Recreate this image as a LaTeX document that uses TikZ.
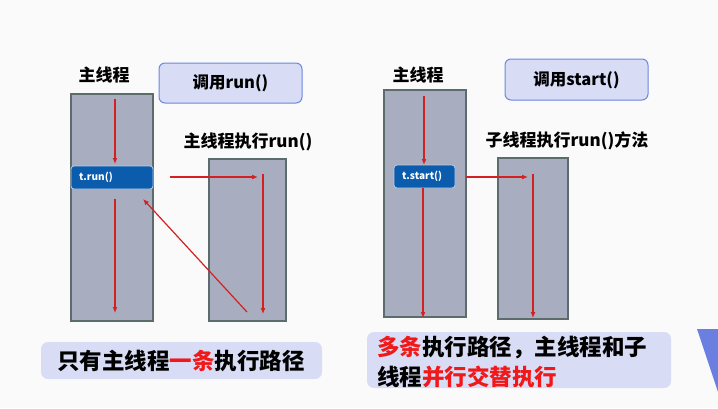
\documentclass[tikz,border=0pt]{standalone}
\usepackage{fontspec}
\newfontfamily\cjk{Noto Sans CJK SC}
\usetikzlibrary{arrows.meta}
\definecolor{colfill}{HTML}{A9ADC0}
\definecolor{colborder}{HTML}{5C6C6C}
\definecolor{callfill}{HTML}{0B5CAD}
\definecolor{labfill}{HTML}{D8DDF5}
\definecolor{labborder}{HTML}{6C87DE}
\definecolor{arr}{HTML}{D42020}
\definecolor{txtred}{HTML}{F01818}
\definecolor{tri}{HTML}{6B7FE0}
\tikzset{
  column/.style={draw=colborder, fill=colfill, line width=1.3pt},
  callbox/.style={draw=white!70!callfill, fill=callfill, rounded corners=3pt, line width=0.8pt},
  calltext/.style={text=white, font=\cjk\bfseries\fontsize{10}{12}\selectfont, anchor=west, inner sep=0pt},
  labbox/.style={draw=labborder, fill=labfill, rounded corners=6pt, line width=1pt},
  sumbox/.style={fill=labfill, rounded corners=7pt},
  title/.style={font=\cjk\bfseries\fontsize{17}{20}\selectfont, inner sep=0pt},
  bigtext/.style={font=\cjk\bfseries\fontsize{22.5}{30}\selectfont, inner sep=0pt},
  flow/.style={draw=arr, line width=1.2pt, -{Latex[length=6pt,width=5pt]}}
}
\begin{document}
\begin{tikzpicture}[x=1pt,y=-1pt]
\fill[white!98!black] (0,0) rectangle (718,408);
\useasboundingbox (0,0) rectangle (718,408);

% ---------- left part ----------
\node[title] (lmainlab) at (104,75) {主线程};
\draw[labbox] (159,63) rectangle (302,103);
\node[title, font=\cjk\bfseries\fontsize{16.5}{20}\selectfont] (lcall) at (230.5,83) {调用run()};

\draw[column] (71,94) rectangle (153,321);
\draw[callbox] (71,166) rectangle (153,189);
\node[calltext] (trun) at (79,177.5) {t.run()};

\node[title] (lrunlab) at (248,142) {主线程执行run()};
\draw[column] (209,159) rectangle (286,321);

\coordinate (la1) at (115,99);
\coordinate (la2) at (115,164);
\coordinate (la3) at (115,199);
\coordinate (la4) at (115,313);
\coordinate (lh1) at (170,177);
\coordinate (lh2) at (258,177);
\coordinate (lv1) at (263,174);
\coordinate (lv2) at (263,314);
\coordinate (ld1) at (247,312);
\coordinate (ld2) at (143,199);
\draw[flow] (la1) -- (la2);
\draw[flow] (la3) -- (la4);
\draw[flow] (lh1) -- (lh2);
\draw[flow] (lv1) -- (lv2);
\draw[flow] (ld1) -- (ld2);

\fill[sumbox] (41,342) rectangle (322,379);
\node[bigtext] (lsum) at (181,361) {只有主线程\textcolor{txtred}{一条}执行路径};

% ---------- right part ----------
\node[title] (rmainlab) at (418,75) {主线程};
\draw[labbox] (505,59) rectangle (648,100);
\node[title, font=\cjk\bfseries\fontsize{16.5}{20}\selectfont] (rcall) at (576.5,80) {调用start()};

\draw[column] (384,90) rectangle (466,317);
\draw[callbox] (394,165) rectangle (455,188);
\node[calltext] (tstart) at (402,176.5) {t.start()};

\node[title] (rrunlab) at (567,141) {子线程执行run()方法};
\draw[column] (498,158) rectangle (568,319);

\coordinate (ra1) at (424,96);
\coordinate (ra2) at (424,165);
\coordinate (ra3) at (423,188);
\coordinate (ra4) at (423,318);
\coordinate (rh1) at (466,177);
\coordinate (rh2) at (528,177);
\coordinate (rv1) at (533,174);
\coordinate (rv2) at (533,318);
\draw[flow] (ra1) -- (ra2);
\draw[flow] (ra3) -- (ra4);
\draw[flow] (rh1) -- (rh2);
\draw[flow] (rv1) -- (rv2);

\fill[sumbox] (367,332) rectangle (671,388);
\node[bigtext, anchor=west] (rsum1) at (377,347.5) {\textcolor{txtred}{多条}执行路径，主线程和子};
\node[bigtext, anchor=west] (rsum2) at (377,377) {线程\textcolor{txtred}{并行交替执行}};

% right-edge triangle
\fill[tri] (697,329) -- (718,329) -- (718,392) -- cycle;
\end{tikzpicture}
\end{document}
